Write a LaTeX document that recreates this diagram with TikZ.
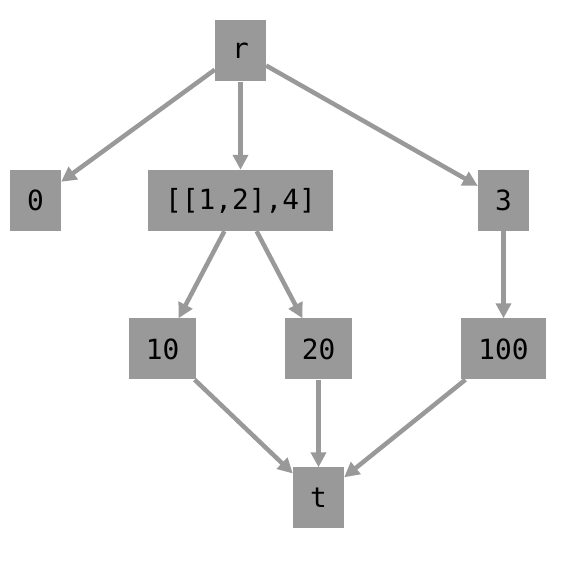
\documentclass[tikz,border=0pt]{standalone}
\usepackage{fontspec}
\newfontfamily\monofont{DejaVu Sans Mono}
\usetikzlibrary{arrows.meta}
\definecolor{boxgray}{HTML}{999999}
\begin{document}
\begin{tikzpicture}[x=1pt,y=1pt,
  box/.style={fill=boxgray,draw=none,inner xsep=17.1pt,inner ysep=0pt,minimum height=61pt,
    font=\monofont\fontsize{27.8}{30}\selectfont,text=black},
  edge/.style={draw=boxgray,line width=4.5pt,-{Triangle[length=15pt,width=15pt]}}]
\useasboundingbox (0,0) rectangle (561,572);
\node[box] (r) at (240.5,521) {r};
\node[box] (n0) at (35.5,371.5) {0};
\node[box] (l) at (240.5,371.5) {[[1,2],4]};
\node[box] (n3) at (503.5,371.5) {3};
\node[box] (n10) at (162.5,223) {10};
\node[box] (n20) at (318.5,223) {20};
\node[box] (n100) at (503.5,223) {100};
\node[box] (t) at (318.5,74) {t};
\draw[edge] (r) -- (n0);
\draw[edge] (r) -- (l);
\draw[edge] (r) -- (n3);
\draw[edge] (l) -- (n10);
\draw[edge] (l) -- (n20);
\draw[edge] (n3) -- (n100);
\draw[edge] (n10) -- (t);
\draw[edge] (n20) -- (t);
\draw[edge] (n100) -- (t);
\end{tikzpicture}
\end{document}
